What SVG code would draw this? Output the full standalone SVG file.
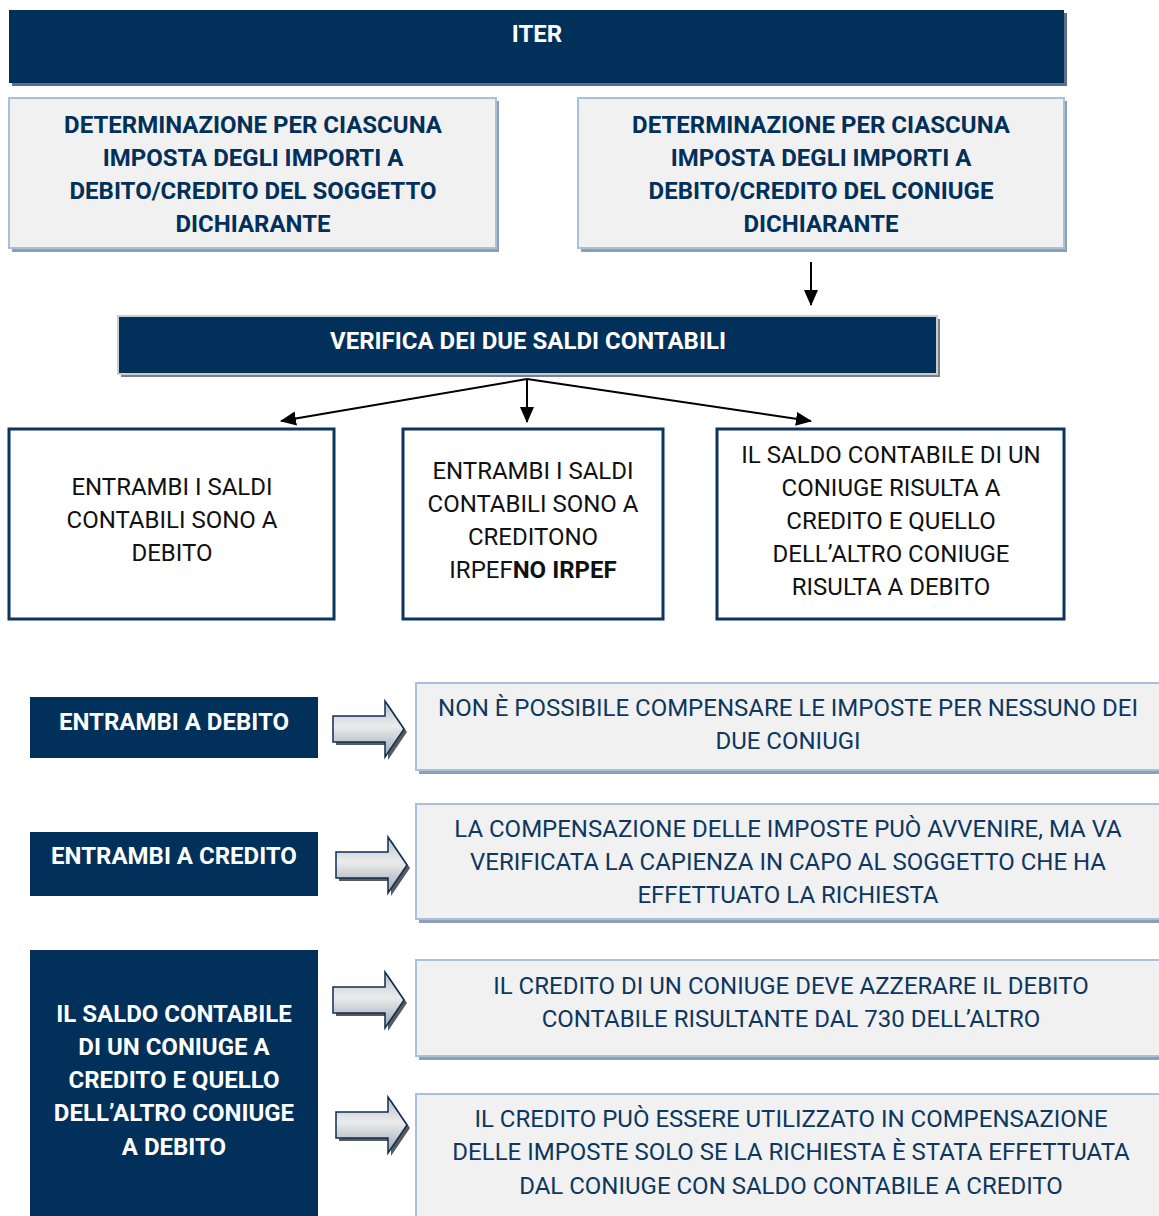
<svg xmlns="http://www.w3.org/2000/svg" width="1159" height="1216" viewBox="0 0 1159 1216">
<defs>
<style>
.dark{fill:#01305a}
.hdr{font-family:Roboto,"Liberation Sans",sans-serif;font-weight:bold;font-size:24px;fill:#ffffff;text-anchor:middle}
.lbl{font-family:Roboto,"Liberation Sans",sans-serif;font-weight:bold;font-size:24px;fill:#01305a;text-anchor:middle}
.blk{font-family:Roboto,"Liberation Sans",sans-serif;font-size:24px;fill:#111111;text-anchor:middle}
.nav{font-family:Roboto,"Liberation Sans",sans-serif;font-size:24px;fill:#0d3760;text-anchor:middle}
.lbox{fill:#f1f1f1;stroke:#a7c0de;stroke-width:2}
.lsh{fill:#8e9eb3}
.wbox{fill:#ffffff;stroke:#0b355e;stroke-width:3}
.conn{stroke:#000;stroke-width:2;fill:none}
.barrow{fill:url(#bg);stroke:#0d2f52;stroke-width:1.5;stroke-linejoin:miter}
.bsh{fill:#5a5a5a}
</style>
<linearGradient id="bg" x1="0" y1="0" x2="0" y2="1">
<stop offset="0" stop-color="#b9c0ca"/>
<stop offset="0.45" stop-color="#ececec"/>
<stop offset="1" stop-color="#9aa4b0"/>
</linearGradient>
<marker id="ah2" markerWidth="16" markerHeight="16" refX="15" refY="8" orient="auto" markerUnits="userSpaceOnUse" viewBox="0 0 16 16">
<path d="M0,1 L16,8 L0,15 z" fill="#000"/>
</marker>
<path id="ba" d="M0,-13 L52,-13 L52,-28 L71,0 L52,28 L52,13 L0,13 z"/>
</defs>

<g id="iter">
<rect x="12" y="13" width="1055" height="73" fill="#5c6f88"/>
<rect x="9" y="10" width="1055" height="73" class="dark"/>
<text x="537" y="42" class="hdr">ITER</text>
</g>

<g id="det-soggetto">
<rect x="12" y="101" width="487" height="151" class="lsh"/>
<rect x="9" y="98" width="487" height="150" class="lbox"/>
<text class="lbl"><tspan x="253" y="133">DETERMINAZIONE PER CIASCUNA</tspan><tspan x="253" y="166">IMPOSTA DEGLI IMPORTI A</tspan><tspan x="253" y="199">DEBITO/CREDITO DEL SOGGETTO</tspan><tspan x="253" y="232">DICHIARANTE</tspan></text>
</g>

<g id="det-coniuge">
<rect x="581" y="101" width="486" height="151" class="lsh"/>
<rect x="578" y="98" width="486" height="150" class="lbox"/>
<text class="lbl"><tspan x="821" y="133">DETERMINAZIONE PER CIASCUNA</tspan><tspan x="821" y="166">IMPOSTA DEGLI IMPORTI A</tspan><tspan x="821" y="199">DEBITO/CREDITO DEL CONIUGE</tspan><tspan x="821" y="232">DICHIARANTE</tspan></text>
</g>

<g id="verifica">
<rect x="121" y="319" width="819" height="58" fill="#7f7f7f"/>
<rect x="118" y="316" width="819" height="58" class="dark" stroke="#c9ccd0" stroke-width="2"/>
<text x="528" y="349" class="hdr">VERIFICA DEI DUE SALDI CONTABILI</text>
</g>

<g id="saldi-debito">
<rect x="9" y="429" width="325" height="190" class="wbox"/>
<text class="blk"><tspan x="172" y="495">ENTRAMBI I SALDI</tspan><tspan x="172" y="528">CONTABILI SONO A</tspan><tspan x="172" y="561">DEBITO</tspan></text>
</g>

<g id="saldi-credito">
<rect x="403" y="429" width="260" height="190" class="wbox"/>
<text class="blk"><tspan x="533" y="479">ENTRAMBI I SALDI</tspan><tspan x="533" y="512">CONTABILI SONO A</tspan><tspan x="533" y="545">CREDITONO</tspan><tspan x="533" y="578">IRPEF<tspan font-weight="bold">NO IRPEF</tspan></tspan></text>
</g>

<g id="saldi-misto">
<rect x="717" y="429" width="347" height="190" class="wbox"/>
<text class="blk"><tspan x="891" y="463">IL SALDO CONTABILE DI UN</tspan><tspan x="891" y="496">CONIUGE RISULTA A</tspan><tspan x="891" y="529">CREDITO E QUELLO</tspan><tspan x="891" y="562">DELL’ALTRO CONIUGE</tspan><tspan x="891" y="595">RISULTA A DEBITO</tspan></text>
</g>

<g id="connectors">
<line x1="811" y1="262" x2="811" y2="305" class="conn" marker-end="url(#ah2)"/>
<line x1="527" y1="379" x2="281" y2="421" class="conn" marker-end="url(#ah2)"/>
<line x1="527" y1="379" x2="527" y2="422" class="conn" marker-end="url(#ah2)"/>
<line x1="527" y1="379" x2="811" y2="421" class="conn" marker-end="url(#ah2)"/>
<g id="block-arrows">
<use href="#ba" x="336" y="732" class="bsh"/>
<use href="#ba" x="333" y="729" class="barrow"/>
<use href="#ba" x="339" y="868" class="bsh"/>
<use href="#ba" x="336" y="865" class="barrow"/>
<use href="#ba" x="336" y="1003" class="bsh"/>
<use href="#ba" x="333" y="1000" class="barrow"/>
<use href="#ba" x="339" y="1128" class="bsh"/>
<use href="#ba" x="336" y="1125" class="barrow"/>
</g>
</g>

<g id="entrambi-debito">
<rect x="30" y="697" width="288" height="61" class="dark"/>
<text x="174" y="730" class="hdr">ENTRAMBI A DEBITO</text>
</g>

<g id="entrambi-credito">
<rect x="30" y="832" width="288" height="64" class="dark"/>
<text x="174" y="864" class="hdr">ENTRAMBI A CREDITO</text>
</g>

<g id="misto">
<rect x="30" y="950" width="288" height="270" class="dark"/>
<text class="hdr"><tspan x="174" y="1022">IL SALDO CONTABILE</tspan><tspan x="174" y="1055">DI UN CONIUGE A</tspan><tspan x="174" y="1088">CREDITO E QUELLO</tspan><tspan x="174" y="1121">DELL’ALTRO CONIUGE</tspan><tspan x="174" y="1155">A DEBITO</tspan></text>
</g>

<g id="res-1">
<rect x="419" y="686" width="750" height="88" class="lsh"/>
<rect x="416" y="683" width="750" height="87" class="lbox"/>
<text class="nav"><tspan x="788" y="716">NON È POSSIBILE COMPENSARE LE IMPOSTE PER NESSUNO DEI</tspan><tspan x="788" y="749">DUE CONIUGI</tspan></text>
</g>

<g id="res-2">
<rect x="419" y="807" width="750" height="116" class="lsh"/>
<rect x="416" y="804" width="750" height="115" class="lbox"/>
<text class="nav"><tspan x="788" y="837">LA COMPENSAZIONE DELLE IMPOSTE PUÒ AVVENIRE, MA VA</tspan><tspan x="788" y="870">VERIFICATA LA CAPIENZA IN CAPO AL SOGGETTO CHE HA</tspan><tspan x="788" y="903">EFFETTUATO LA RICHIESTA</tspan></text>
</g>

<g id="res-3">
<rect x="419" y="963" width="750" height="97" class="lsh"/>
<rect x="416" y="960" width="750" height="96" class="lbox"/>
<text class="nav"><tspan x="791" y="994">IL CREDITO DI UN CONIUGE DEVE AZZERARE IL DEBITO</tspan><tspan x="791" y="1027">CONTABILE RISULTANTE DAL 730 DELL’ALTRO</tspan></text>
</g>

<g id="res-4">
<rect x="419" y="1097" width="750" height="130" class="lsh"/>
<rect x="416" y="1094" width="750" height="130" class="lbox"/>
<text class="nav"><tspan x="791" y="1127">IL CREDITO PUÒ ESSERE UTILIZZATO IN COMPENSAZIONE</tspan><tspan x="791" y="1160">DELLE IMPOSTE SOLO SE LA RICHIESTA È STATA EFFETTUATA</tspan><tspan x="791" y="1194">DAL CONIUGE CON SALDO CONTABILE A CREDITO</tspan></text>
</g>
</svg>
